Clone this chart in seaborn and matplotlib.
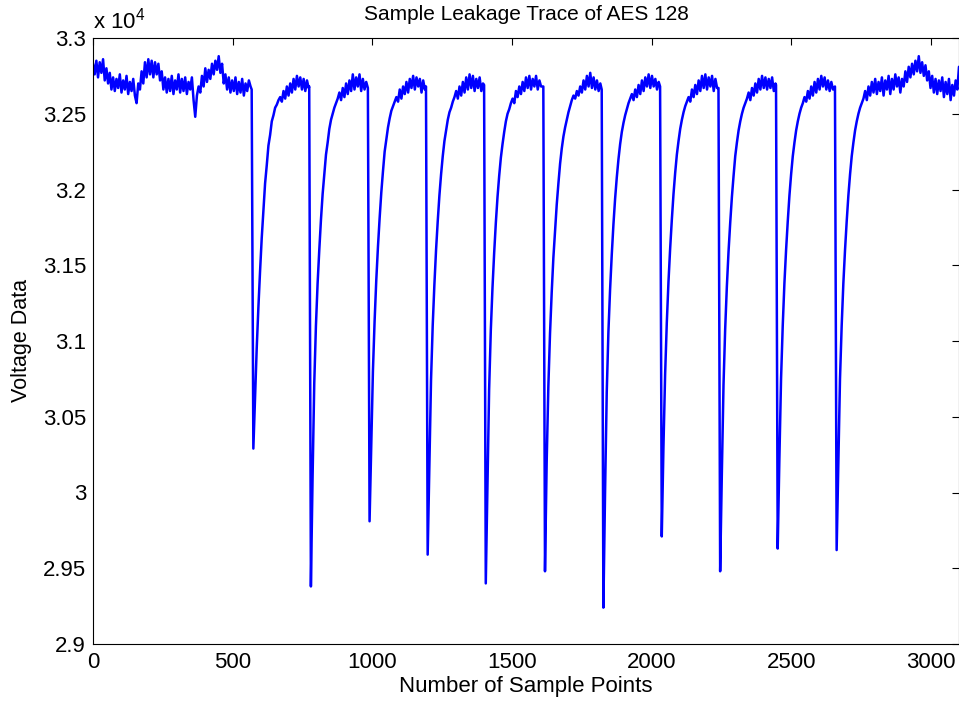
import numpy as np
import pandas as pd
import matplotlib
matplotlib.use("Agg")
import matplotlib.pyplot as plt
import seaborn as sns
from matplotlib.ticker import FuncFormatter

# ---------------- data (units of 1e4) ----------------
STEP = 6  # sample spacing of the values

baseline = [3.283, 3.276, 3.285, 3.274, 3.284, 3.277, 3.286, 3.272, 3.280, 3.270,
            3.277, 3.266, 3.274, 3.265, 3.273, 3.267, 3.276, 3.264, 3.272, 3.266,
            3.275, 3.263, 3.271, 3.265, 3.273, 3.262, 3.257, 3.270, 3.266, 3.278,
            3.270, 3.284, 3.274, 3.286, 3.276, 3.285, 3.274, 3.284, 3.276, 3.283,
            3.272, 3.278, 3.266, 3.274, 3.264, 3.273, 3.265, 3.275, 3.263, 3.272,
            3.266, 3.276, 3.264, 3.273, 3.265, 3.274, 3.263, 3.271, 3.266, 3.274,
            3.259, 3.248, 3.262, 3.268, 3.264, 3.275, 3.268, 3.280, 3.271, 3.279,
            3.273, 3.283, 3.276, 3.285, 3.279, 3.288, 3.277, 3.283, 3.270, 3.276,
            3.266, 3.274, 3.264, 3.272, 3.265, 3.274, 3.263, 3.271, 3.264, 3.273,
            3.262, 3.270, 3.265, 3.272, 3.268]

drop_x = [568, 774, 984, 1192, 1400, 1612, 1821, 2030, 2239, 2445, 2656]

cycle_1 = [3.266, 3.029, 3.062, 3.095, 3.122, 3.146, 3.168, 3.186, 3.204, 3.216,
           3.229, 3.236, 3.245, 3.249, 3.254, 3.256, 3.259, 3.261, 3.258, 3.265,
           3.260, 3.268, 3.262, 3.270, 3.264, 3.273, 3.266, 3.275, 3.268, 3.274,
           3.266, 3.273, 3.265, 3.272, 3.267]
cycle_2 = [3.268, 2.938, 3.010, 3.072, 3.110, 3.138, 3.160, 3.180, 3.197, 3.210,
           3.223, 3.231, 3.240, 3.246, 3.250, 3.254, 3.257, 3.260, 3.264, 3.259,
           3.267, 3.261, 3.270, 3.263, 3.272, 3.265, 3.276, 3.266, 3.274, 3.268,
           3.276, 3.265, 3.273, 3.266, 3.271]
cycle_3 = [3.267, 2.981, 3.030, 3.080, 3.113, 3.140, 3.162, 3.181, 3.198, 3.212,
           3.225, 3.233, 3.241, 3.247, 3.252, 3.255, 3.258, 3.261, 3.258, 3.266,
           3.260, 3.268, 3.263, 3.271, 3.264, 3.273, 3.267, 3.275, 3.266, 3.274,
           3.268, 3.273, 3.264, 3.272, 3.266]
cycle_4 = [3.268, 2.959, 3.015, 3.074, 3.110, 3.137, 3.160, 3.179, 3.196, 3.210,
           3.222, 3.232, 3.239, 3.246, 3.251, 3.254, 3.258, 3.261, 3.265, 3.260,
           3.268, 3.262, 3.271, 3.264, 3.274, 3.266, 3.276, 3.267, 3.275, 3.265,
           3.273, 3.267, 3.274, 3.265, 3.270]
cycle_5 = [3.269, 2.940, 3.005, 3.068, 3.107, 3.135, 3.158, 3.178, 3.195, 3.209,
           3.221, 3.230, 3.238, 3.245, 3.250, 3.253, 3.257, 3.260, 3.257, 3.265,
           3.261, 3.268, 3.263, 3.271, 3.265, 3.274, 3.267, 3.275, 3.266, 3.273,
           3.268, 3.275, 3.266, 3.272, 3.268]
cycle_6 = [3.268, 2.948, 3.020, 3.070, 3.105, 3.132, 3.155, 3.172, 3.190, 3.204,
           3.217, 3.227, 3.235, 3.241, 3.246, 3.251, 3.255, 3.259, 3.262, 3.260,
           3.265, 3.262, 3.268, 3.264, 3.272, 3.266, 3.275, 3.268, 3.277, 3.267,
           3.274, 3.266, 3.272, 3.265, 3.270]
cycle_7 = [3.266, 2.924, 3.000, 3.066, 3.106, 3.134, 3.157, 3.177, 3.194, 3.208,
           3.220, 3.230, 3.238, 3.244, 3.249, 3.253, 3.257, 3.260, 3.263, 3.259,
           3.266, 3.261, 3.269, 3.263, 3.272, 3.265, 3.274, 3.268, 3.276, 3.267,
           3.275, 3.268, 3.273, 3.266, 3.271]
cycle_8 = [3.268, 2.971, 3.030, 3.078, 3.112, 3.139, 3.161, 3.180, 3.197, 3.211,
           3.223, 3.232, 3.240, 3.246, 3.251, 3.255, 3.258, 3.261, 3.258, 3.266,
           3.261, 3.269, 3.263, 3.272, 3.265, 3.275, 3.267, 3.276, 3.266, 3.274,
           3.268, 3.275, 3.265, 3.273, 3.267]
cycle_9 = [3.267, 2.948, 3.012, 3.071, 3.108, 3.136, 3.159, 3.178, 3.195, 3.209,
           3.222, 3.231, 3.239, 3.245, 3.250, 3.254, 3.257, 3.260, 3.264, 3.259,
           3.267, 3.262, 3.270, 3.264, 3.273, 3.266, 3.275, 3.267, 3.274, 3.266,
           3.273, 3.267, 3.274, 3.265, 3.270]
cycle_10 = [3.269, 2.963, 3.022, 3.075, 3.110, 3.138, 3.160, 3.179, 3.196, 3.210,
            3.222, 3.231, 3.239, 3.245, 3.250, 3.254, 3.257, 3.261, 3.258, 3.265,
            3.260, 3.268, 3.262, 3.271, 3.264, 3.273, 3.266, 3.275, 3.268, 3.274,
            3.266, 3.272, 3.265, 3.271, 3.266]
cycle_11 = [3.268, 2.962, 3.020, 3.075, 3.110, 3.138, 3.160, 3.179, 3.196, 3.210,
            3.222, 3.231, 3.239, 3.245, 3.250, 3.254, 3.257, 3.260, 3.265, 3.259,
            3.268, 3.262, 3.271, 3.264, 3.273, 3.263, 3.271, 3.265, 3.274, 3.262,
            3.272, 3.266, 3.275, 3.263, 3.273, 3.266, 3.276, 3.268, 3.274, 3.264,
            3.273, 3.268, 3.278, 3.271, 3.281, 3.274, 3.283, 3.276, 3.285, 3.278,
            3.288, 3.277, 3.284, 3.275, 3.282, 3.272, 3.278, 3.267, 3.275, 3.264,
            3.273, 3.263, 3.272, 3.265, 3.274, 3.261, 3.271, 3.263, 3.273, 3.259,
            3.269, 3.262, 3.272, 3.266, 3.281]

cycles = [cycle_1, cycle_2, cycle_3, cycle_4, cycle_5, cycle_6,
          cycle_7, cycle_8, cycle_9, cycle_10, cycle_11]

x_ticks = [0, 500, 1000, 1500, 2000, 2500, 3000]
y_ticks = [2.9, 2.95, 3.0, 3.05, 3.1, 3.15, 3.2, 3.25, 3.3]

# ---------------- assemble table ----------------
xs = list(np.arange(len(baseline)) * STEP)
ys = list(baseline)
for d, c in zip(drop_x, cycles):
    xs += list(d + np.arange(len(c)) * STEP)
    ys += list(c)
df = pd.DataFrame({"sample": xs, "voltage": ys})

# ---------------- plot ----------------
sns.set_theme(style="white")
plt.rcParams['font.family'] = ['Liberation Sans', 'DejaVu Sans']
plt.rcParams['mathtext.default'] = 'regular'

FS = 16
fig = plt.figure(figsize=(9.59, 7.02), dpi=100)
ax = fig.add_axes([93 / 959, 1 - 644 / 702, 866 / 959, 606 / 702])

sns.lineplot(data=df, x="sample", y="voltage", estimator=None, sort=False,
             color=(0, 0, 1), linewidth=1.8, ax=ax)

ax.set_xlim(0, 3100)
ax.set_ylim(2.9, 3.3)
ax.set_xticks(x_ticks)
ax.set_yticks(y_ticks)
ax.yaxis.set_major_formatter(FuncFormatter(lambda v, p: f"{v:g}"))
ax.xaxis.set_major_formatter(FuncFormatter(lambda v, p: f"{v:g}"))
ax.tick_params(direction='in', length=5, width=0.8, top=True, right=True,
               labelsize=FS, colors='black')
ax.tick_params(axis='x', pad=6)
ax.tick_params(axis='y', pad=5)
for s in ax.spines.values():
    s.set_color('black')
    s.set_linewidth(0.8)

ax.set_title("Sample Leakage Trace of AES 128", fontsize=15, pad=13, color='black')
ax.set_xlabel("Number of Sample Points", fontsize=FS, labelpad=2, color='black')
ax.set_ylabel("Voltage Data", fontsize=15.5, labelpad=8, color='black')
fig.text(93 / 959, 1 - 29 / 702, "x 10$^4$", fontsize=FS, ha='left', va='baseline',
         color='black')

fig.savefig("out.png", dpi=100)
